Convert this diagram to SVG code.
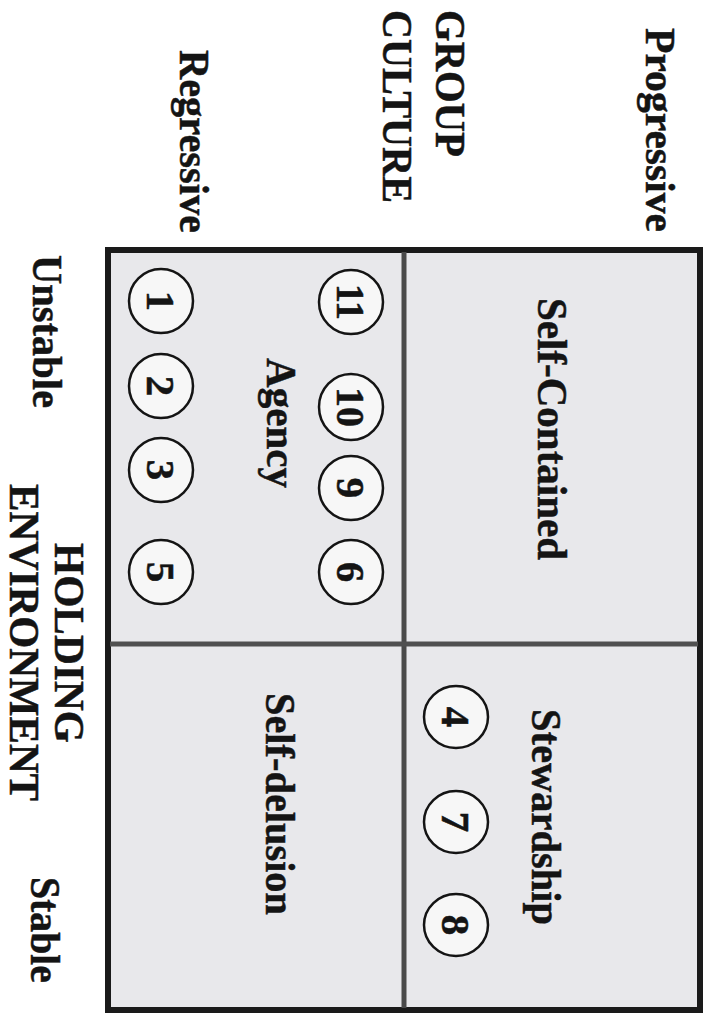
<svg xmlns="http://www.w3.org/2000/svg" width="705" height="1015" viewBox="0 0 705 1015">
<style>
text{font-family:"Liberation Serif","Times New Roman",serif;font-weight:bold;fill:#141414;stroke:#141414;stroke-width:0.5}
.lbl{font-size:43px}
.num{font-size:41px;text-anchor:middle}
.c{fill:#f7f7f7;stroke:#141414;stroke-width:2.5}
</style>
<rect width="705" height="1015" fill="#ffffff"/>
<g id="grid">
<rect x="108" y="250" width="592" height="760" fill="#e8e8eb" stroke="#1a1a1a" stroke-width="6"/>
<line x1="404" y1="252" x2="404" y2="1008" stroke="#4a4a4a" stroke-width="5"/>
<line x1="110" y1="644" x2="698" y2="644" stroke="#505050" stroke-width="5"/>
</g>
<g id="axis-labels">
<text class="lbl" transform="translate(646,28) rotate(90)" textLength="204" lengthAdjust="spacingAndGlyphs">Progressive</text>
<text class="lbl" transform="translate(436,10) rotate(90)" textLength="147" lengthAdjust="spacingAndGlyphs">GROUP</text>
<text class="lbl" transform="translate(383,10) rotate(90)" textLength="193" lengthAdjust="spacingAndGlyphs">CULTURE</text>
<text class="lbl" transform="translate(180,50) rotate(90)" textLength="183" lengthAdjust="spacingAndGlyphs">Regressive</text>
<text class="lbl" transform="translate(33,255) rotate(90)" textLength="153" lengthAdjust="spacingAndGlyphs">Unstable</text>
<text class="lbl" transform="translate(55,543) rotate(90)" textLength="200" lengthAdjust="spacingAndGlyphs">HOLDING</text>
<text class="lbl" transform="translate(10,484) rotate(90)" textLength="317" lengthAdjust="spacingAndGlyphs">ENVIRONMENT</text>
<text class="lbl" transform="translate(31,877) rotate(90)" textLength="106" lengthAdjust="spacingAndGlyphs">Stable</text>
</g>
<g id="quadrant-labels">
<text class="lbl" transform="translate(538,298) rotate(90)" textLength="262" lengthAdjust="spacingAndGlyphs">Self-Contained</text>
<text class="lbl" transform="translate(267,358) rotate(90)" textLength="130" lengthAdjust="spacingAndGlyphs">Agency</text>
<text class="lbl" transform="translate(532,709) rotate(90)" textLength="216" lengthAdjust="spacingAndGlyphs">Stewardship</text>
<text class="lbl" transform="translate(266,693) rotate(90)" textLength="222" lengthAdjust="spacingAndGlyphs">Self-delusion</text>
</g>
<g id="n1" transform="translate(161,301)"><ellipse class="c" rx="32" ry="32"/><text class="num" transform="rotate(90)" y="14">1</text></g>
<g id="n2" transform="translate(161,386)"><ellipse class="c" rx="32" ry="32"/><text class="num" transform="rotate(90)" y="14">2</text></g>
<g id="n3" transform="translate(161,470)"><ellipse class="c" rx="32" ry="32"/><text class="num" transform="rotate(90)" y="14">3</text></g>
<g id="n5" transform="translate(161,572)"><ellipse class="c" rx="32" ry="32"/><text class="num" transform="rotate(90)" y="14">5</text></g>
<g id="n11" transform="translate(351,302)"><ellipse class="c" rx="32" ry="32"/><text class="num" transform="rotate(90)" y="14" textLength="36" lengthAdjust="spacingAndGlyphs">11</text></g>
<g id="n10" transform="translate(351,407)"><ellipse class="c" rx="32" ry="33"/><text class="num" transform="rotate(90)" y="14" textLength="40" lengthAdjust="spacingAndGlyphs">10</text></g>
<g id="n9" transform="translate(351,488)"><ellipse class="c" rx="32" ry="32"/><text class="num" transform="rotate(90)" y="14">9</text></g>
<g id="n6" transform="translate(351,572)"><ellipse class="c" rx="32" ry="32"/><text class="num" transform="rotate(90)" y="14">6</text></g>
<g id="n4" transform="translate(456,717)"><ellipse class="c" rx="32" ry="31"/><text class="num" transform="rotate(90)" y="14">4</text></g>
<g id="n7" transform="translate(456,822)"><ellipse class="c" rx="32" ry="31"/><text class="num" transform="rotate(90)" y="14">7</text></g>
<g id="n8" transform="translate(456,925)"><ellipse class="c" rx="32" ry="31"/><text class="num" transform="rotate(90)" y="14">8</text></g>
</svg>
